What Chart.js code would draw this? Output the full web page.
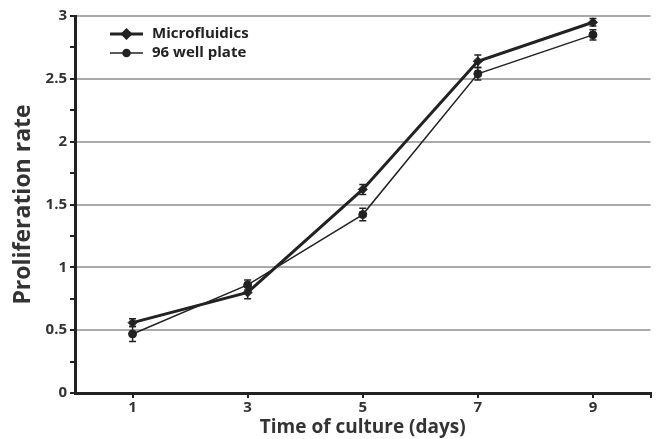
<!DOCTYPE html>
<html>
<head>
<meta charset="utf-8">
<script src="https://cdn.jsdelivr.net/npm/chart.js@4.4.1/dist/chart.umd.min.js"></script>
<style>
  html, body { margin: 0; padding: 0; background: #fff; }
  #wrap { width: 656px; height: 439px; position: relative; }
</style>
</head>
<body>
<div id="wrap"><canvas id="chart"></canvas></div>
<script>
// ---------- DATA ----------
const days = [1, 3, 5, 7, 9];
const microValues = [0.56, 0.80, 1.62, 2.64, 2.95];
const microErrors = [0.03, 0.05, 0.04, 0.05, 0.03];
const wellValues = [0.47, 0.86, 1.42, 2.54, 2.85];
const wellErrors = [0.06, 0.04, 0.05, 0.05, 0.04];
const yMajorStep = 0.5;

const ink = "#222";
const fontFamily = "'Open Sans', 'Noto Sans', sans-serif";

// ---------- ERROR BARS ----------
const errorBars = {
  id: "errorBars",
  afterDatasetsDraw(chart) {
    const ctx = chart.ctx;
    const yScale = chart.scales.y;
    chart.data.datasets.forEach((ds, i) => {
      const meta = chart.getDatasetMeta(i);
      ctx.save();
      ctx.strokeStyle = ink;
      ctx.lineWidth = 1.5;
      meta.data.forEach((pt, j) => {
        const v = ds.data[j].y;
        const e = ds.errors[j];
        const top = yScale.getPixelForValue(v + e);
        const bottom = yScale.getPixelForValue(v - e);
        ctx.beginPath();
        ctx.moveTo(pt.x, top);
        ctx.lineTo(pt.x, bottom);
        ctx.moveTo(pt.x - 3.5, top);
        ctx.lineTo(pt.x + 3.5, top);
        ctx.moveTo(pt.x - 3.5, bottom);
        ctx.lineTo(pt.x + 3.5, bottom);
        ctx.stroke();
      });
      ctx.restore();
    });
  }
};

// ---------- LEGEND (inside plot, top-left) ----------
const insideLegend = {
  id: "insideLegend",
  afterDraw(chart) {
    const ctx = chart.ctx;
    const area = chart.chartArea;
    const x0 = area.left + 35;
    let y = area.top + 18;
    chart.data.datasets.forEach(ds => {
      ctx.save();
      ctx.strokeStyle = ink;
      ctx.fillStyle = ink;
      ctx.lineWidth = ds.borderWidth;
      ctx.beginPath();
      ctx.moveTo(x0, y);
      ctx.lineTo(x0 + 33, y);
      ctx.stroke();
      Chart.helpers.drawPoint(ctx, {
        pointStyle: ds.pointStyle,
        radius: ds.pointRadius - 0.5,
        borderWidth: 1
      }, x0 + 16.5, y);
      ctx.font = "bold 15px " + fontFamily;
      ctx.textBaseline = "middle";
      ctx.fillText(ds.label, x0 + 42, y);
      ctx.restore();
      y += 19;
    });
  }
};

new Chart(document.getElementById("chart"), {
  type: "line",
  data: {
    datasets: [
      {
        label: "Microfluidics",
        data: days.map((d, i) => ({ x: d, y: microValues[i] })),
        errors: microErrors,
        borderColor: ink,
        backgroundColor: ink,
        borderWidth: 3,
        pointStyle: "rectRot",
        pointRadius: 4.5,
        pointBorderWidth: 1,
      },
      {
        label: "96 well plate",
        data: days.map((d, i) => ({ x: d, y: wellValues[i] })),
        errors: wellErrors,
        borderColor: ink,
        backgroundColor: ink,
        borderWidth: 1.5,
        pointStyle: "circle",
        pointRadius: 4,
        pointBorderWidth: 1,
      },
    ],
  },
  options: {
    responsive: true,
    maintainAspectRatio: false,
    animation: false,
    layout: { padding: { top: 16, right: 5, left: 0, bottom: 0 } },
    plugins: {
      legend: { display: false },
      tooltip: { enabled: false },
    },
    scales: {
      x: {
        type: "linear",
        min: 0,
        max: 10,
        afterBuildTicks: scale => {
          scale.ticks = days.map(d => ({ value: d })).concat([{ value: 10 }]);
        },
        afterFit: scale => { scale.height = 46; },
        border: { color: ink, width: 3 },
        grid: { drawOnChartArea: false, color: ink, tickColor: ink, tickLength: 5, lineWidth: 2 },
        ticks: {
          color: "#333",
          padding: 1,
          font: { family: fontFamily, size: 15, weight: "bold" },
          callback: v => (days.includes(v) ? String(v) : ""),
        },
        title: {
          display: true,
          text: "Time of culture (days)",
          color: "#333",
          padding: { top: 0, bottom: 0 },
          font: { family: fontFamily, size: 19, weight: "bold" },
        },
      },
      y: {
        min: 0,
        max: 3,
        afterFit: scale => { scale.width = 75; },
        border: { color: ink, width: 3 },
        grid: {
          color: ctx => (Math.abs(ctx.tick.value / yMajorStep - Math.round(ctx.tick.value / yMajorStep)) < 1e-6 && ctx.tick.value > 0 ? "#aaa" : "rgba(0,0,0,0)"),
          lineWidth: 2,
          tickColor: ink,
          tickLength: 5,
        },
        ticks: {
          stepSize: 0.25,
          autoSkip: false,
          color: "#333",
          padding: 3,
          font: { family: fontFamily, size: 15, weight: "bold" },
          callback: v => (Math.abs(v / yMajorStep - Math.round(v / yMajorStep)) < 1e-6 ? String(v) : ""),
        },
        title: {
          display: true,
          text: "Proliferation rate",
          color: "#333",
          padding: { top: 10, bottom: 4 },
          font: { family: fontFamily, size: 23, weight: "bold" },
        },
      },
    },
  },
  plugins: [errorBars, insideLegend],
});
</script>
</body>
</html>
